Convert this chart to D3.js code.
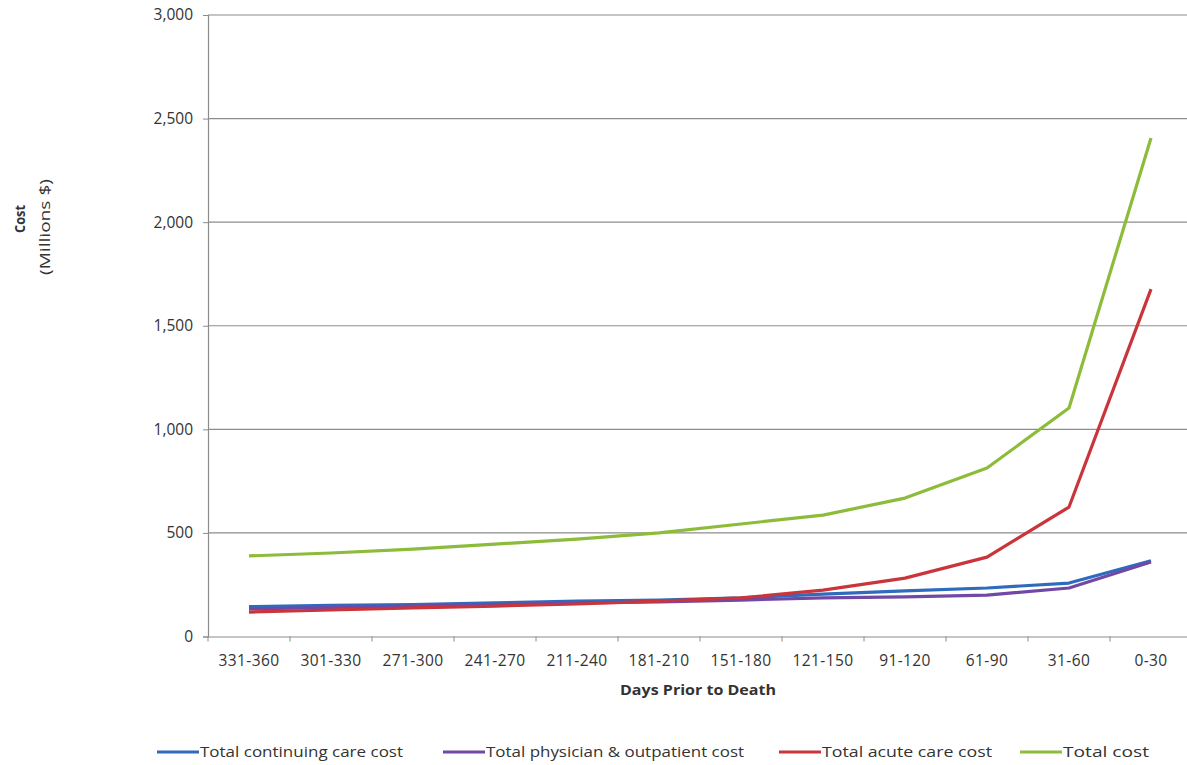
<!DOCTYPE html>
<html><head><meta charset="utf-8">
<script src="https://cdn.jsdelivr.net/npm/d3@7"></script>
<style>body{margin:0;background:#fff;} text{font-family:"Open Sans","Liberation Sans",sans-serif;fill:#333;}</style>
</head><body>
<svg id="c" width="1187" height="765"></svg>
<script>
const categories = ["331-360","301-330","271-300","241-270","211-240","181-210","151-180","121-150","91-120","61-90","31-60","0-30"];
const continuingCare = [144,150,154,162,171,176,186,205,220,234,258,366];
const physicianOutpatient = [133,140,147,154,162,167,176,186,191,200,234,360];
const acuteCare = [118,128,138,147,157,171,186,224,282,383,625,1677];
const totalCost = [389,403,422,446,470,500,543,586,668,813,1103,2406];
const yTicks = [0,500,1000,1500,2000,2500,3000];
const seriesNames = ["Total continuing care cost","Total physician & outpatient cost","Total acute care cost","Total cost"];
const seriesColors = ["#2f6bbd","#7148a6","#c9353a","#8cbc3a"];
const seriesValues = [continuingCare, physicianOutpatient, acuteCare, totalCost];

const svg = d3.select("#c");
const x = d3.scaleBand().domain(categories).range([208,1192]);
const y = d3.scaleLinear().domain([0,3000]).range([636.5,15]);

// gridlines
svg.append("g").selectAll("line").data(yTicks.filter(d=>d>0)).join("line")
  .attr("x1",208).attr("x2",1187).attr("y1",d=>y(d)).attr("y2",d=>y(d))
  .attr("stroke","#8c8c8c").attr("stroke-width",1.2);

// y axis
const yAxis = svg.append("g").attr("transform","translate(208,0)")
  .call(d3.axisLeft(y).tickValues(yTicks).tickFormat(d3.format(",")).tickSize(5).tickPadding(10));
yAxis.select(".domain").attr("stroke","#8c8c8c").attr("stroke-width",1.2);
yAxis.selectAll(".tick line").attr("stroke","#8c8c8c");
yAxis.selectAll("text").style("font-size","15.5px").style("fill","#333");

// x axis
const xAxis = svg.append("g").attr("transform","translate(0,636.5)")
  .call(d3.axisBottom(x).tickSize(0).tickPadding(18));
xAxis.select(".domain").attr("stroke","#8c8c8c").attr("stroke-width",1.2);
xAxis.selectAll("text").style("font-size","15.5px").style("fill","#333").style("letter-spacing","0.4px");
xAxis.selectAll(".bt").data(categories).join("line")
  .attr("x1",(d,i)=>208+(i+1)*x.bandwidth()).attr("x2",(d,i)=>208+(i+1)*x.bandwidth())
  .attr("y1",0).attr("y2",5).attr("stroke","#8c8c8c");
xAxis.append("line").attr("x1",208).attr("x2",208).attr("y1",0).attr("y2",5).attr("stroke","#8c8c8c");

// lines
const line = d3.line().x((d,i)=>x(categories[i])+x.bandwidth()/2).y(d=>y(d));
seriesValues.forEach((vals,k)=>{
  svg.append("path").datum(vals).attr("d",line).attr("fill","none")
    .attr("stroke",seriesColors[k]).attr("stroke-width",3.2).attr("stroke-linejoin","round");
});

// axis titles
svg.append("text").attr("x",698).attr("y",695).attr("text-anchor","middle")
  .style("font-size","14.5px").style("font-weight","bold")
  .attr("textLength",156).attr("lengthAdjust","spacingAndGlyphs").text("Days  Prior to Death");
svg.append("text").attr("transform","translate(25,219) rotate(-90)").attr("text-anchor","middle")
  .style("font-size","14px").style("font-weight","bold")
  .attr("textLength",28).attr("lengthAdjust","spacingAndGlyphs").text("Cost");
svg.append("text").attr("transform","translate(50,227) rotate(-90)").attr("text-anchor","middle")
  .style("font-size","15px")
  .attr("textLength",96).attr("lengthAdjust","spacingAndGlyphs").text("(Millions $)");

// legend
const legX = [157,443,779,1020];
const legW = [203,258,170,86];
seriesNames.forEach((n,k)=>{
  svg.append("line").attr("x1",legX[k]).attr("x2",legX[k]+42).attr("y1",752).attr("y2",752)
    .attr("stroke",seriesColors[k]).attr("stroke-width",3);
  svg.append("text").attr("x",legX[k]+43).attr("y",757).style("font-size","14px")
    .attr("textLength",legW[k]).attr("lengthAdjust","spacingAndGlyphs").text(n);
});
</script>
</body></html>
